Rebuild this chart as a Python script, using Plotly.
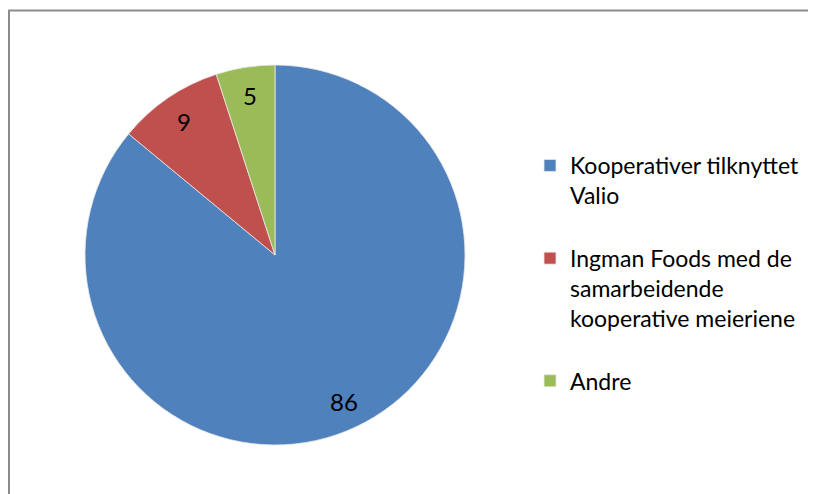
import math
import plotly.graph_objects as go

labels = ["Kooperativer tilknyttet<br>Valio<br> ",
          "Ingman Foods med de<br>samarbeidende<br>kooperative meieriene<br> ",
          "Andre"]
values = [86, 9, 5]
colors = ["#4F81BD", "#C0504D", "#9BBB59"]

W, H = 816, 494
cx, cy, r = 267, 247, 190   # pie centre / radius in figure pixels

fig = go.Figure(go.Pie(
    labels=labels,
    values=values,
    sort=False,
    direction="clockwise",
    rotation=0,
    marker=dict(colors=colors, line=dict(color="#E8E8E8", width=0.8)),
    textinfo="none",
    domain=dict(x=[(cx - r) / W, (cx + r) / W], y=[1 - (cy + r) / H, 1 - (cy - r) / H]),
    hoverinfo="label+value",
))

# value labels placed along each slice's bisector (derived from the values)
total = sum(values)
annotations = []
acc = 0
for v in values:
    mid = (acc + v / 2) / total * 2 * math.pi
    acc += v
    px = cx + 0.85 * r * math.sin(mid)
    py = cy - 0.85 * r * math.cos(mid)
    annotations.append(dict(x=px / W, y=1 - py / H, xref="paper", yref="paper",
                            xanchor="center", yanchor="middle",
                            text=str(v), showarrow=False,
                            font=dict(family="Lato", size=24, color="black")))

fig.update_layout(
    width=W, height=H,
    margin=dict(l=0, r=0, t=0, b=0),
    paper_bgcolor="white",
    font=dict(family="Lato", size=23, color="black"),
    showlegend=True,
    legend=dict(
        x=522 / W, y=1 - 136 / H, xanchor="left", yanchor="top",
        valign="top",
        font=dict(family="Lato", size=23, color="black"),
        itemwidth=30,
        tracegroupgap=0,
    ),
    annotations=annotations,
    shapes=[dict(type="rect", xref="paper", yref="paper",
                 x0=1 / W, x1=1.05, y0=-0.05, y1=1 - 2.5 / H,
                 line=dict(color="#8C8C8C", width=2), fillcolor="rgba(0,0,0,0)")],
)

fig.write_html("out.html")
